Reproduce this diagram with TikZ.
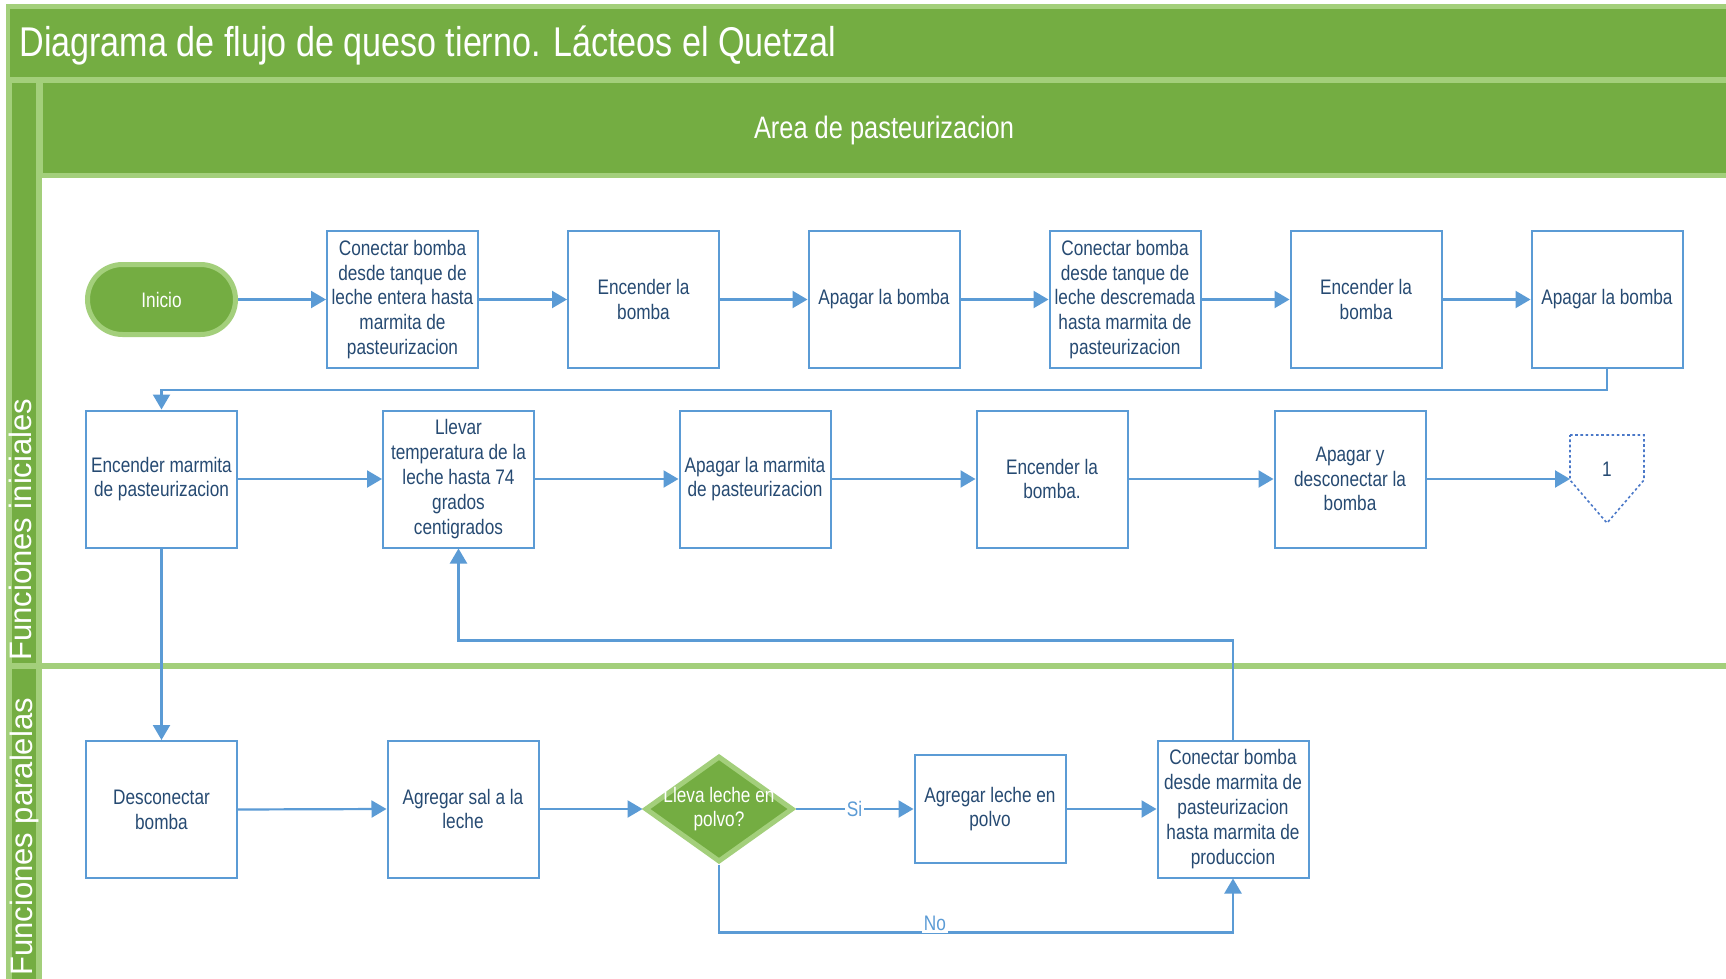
\documentclass[tikz,border=0pt]{standalone}
\usepackage{fontspec}
\setmainfont{Liberation Sans}[FakeStretch=0.82]
\newfontfamily\lanefont{Liberation Sans}
\usetikzlibrary{arrows.meta,shapes.geometric}

\definecolor{pool}{HTML}{74AD42}
\definecolor{poolline}{HTML}{A3CF7B}
\definecolor{flowblue}{HTML}{5B9BD5}
\definecolor{boxtext}{HTML}{264A72}
\definecolor{offline}{HTML}{4A78C8}

\tikzset{
  every node/.style={font=\fontsize{10.5pt}{12.4pt}\selectfont},
  task/.style={draw=flowblue, line width=1pt, fill=white, minimum width=75.5pt,
    minimum height=68.5pt, inner sep=0pt, align=center, text=boxtext},
  shorttask/.style={task, minimum height=54pt},
  terminal/.style={draw=poolline, fill=pool, line width=2.5pt, rounded corners=17.5pt,
    minimum width=74pt, minimum height=35pt, text=white},
  decision/.style={diamond, draw=poolline, fill=pool, line width=2.5pt,
    minimum width=74pt, minimum height=53pt, inner sep=0pt},
  flow/.style={draw=flowblue, line width=1.1pt, -{Triangle[length=7.5pt,width=8.5pt]}},
  flowlabel/.style={fill=white, text=flowblue, inner sep=1pt},
  lanelabel/.style={rotate=90, anchor=base west, inner sep=0pt, text=white,
    font=\lanefont\fontsize{15.5pt}{18pt}\selectfont},
}

\begin{document}
\begin{tikzpicture}[x=0.5pt, y=-0.5pt]
\useasboundingbox (0,0) rectangle (1726,979);
\clip (0,0) rectangle (1726,979);

% pool frame, title bar, phase header and lane strips
\fill[poolline] (6,4) rectangle (1740,990);
\fill[pool] (10,9) rectangle (1740,77);
\fill[pool] (43,83) rectangle (1740,173);
\fill[pool] (12,83) rectangle (36,663);
\fill[pool] (12,669) rectangle (36,990);
\fill[white] (42,178) rectangle (1740,663);
\fill[white] (42,669) rectangle (1740,990);

\node[anchor=west, inner sep=0pt, text=white, font=\fontsize{20.8pt}{24pt}\selectfont]
  (title) at (19,46) {Diagrama de flujo de queso tierno. Lácteos el Quetzal};
\node[text=white, font=\fontsize{15.5pt}{18pt}\selectfont]
  (area) at (884,130) {Area de pasteurizacion};
\node[lanelabel] (lane1) at (32,661) {Funciones iniciales};
\node[lanelabel] (lane2) at (32.5,976) {Funciones paralelas};

% first row
\node[terminal] (start) at (161.5,299.5) {Inicio};
\node[task] (b1) at (402.5,299.5) {Conectar bomba\\desde tanque de\\leche entera hasta\\marmita de\\pasteurizacion};
\node[task] (b2) at (643.5,299.5) {Encender la\\bomba};
\node[task] (b3) at (884,299.5) {Apagar la bomba};
\node[task] (b4) at (1125,299.5) {Conectar bomba\\desde tanque de\\leche descremada\\hasta marmita de\\pasteurizacion};
\node[task] (b5) at (1366,299.5) {Encender la\\bomba};
\node[task] (b6) at (1607,299.5) {Apagar la bomba};

% second row
\node[task] (c1) at (161.5,479) {Encender marmita\\de pasteurizacion};
\node[task] (c2) at (458.5,479) {Llevar\\temperatura de la\\leche hasta 74\\grados\\centigrados};
\node[task] (c3) at (755,479) {Apagar la marmita\\de pasteurizacion};
\node[task] (c4) at (1052,479) {Encender la\\bomba.};
\node[task] (c5) at (1350,479) {Apagar y\\desconectar la\\bomba};

% off-page reference
\draw[draw=offline, line width=0.8pt, dash pattern=on 1.3pt off 1.3pt, fill=white]
  (1570,435) -- (1644,435) -- (1644,480) -- (1607,523) -- (1570,480) -- cycle;
\node[text=boxtext] (off) at (1607,469) {1};
\coordinate (offin) at (1570,479);

% parallel lane
\node[task] (d1) at (161.5,809.5) {Desconectar\\bomba};
\node[task] (d2) at (463,809) {Agregar sal a la\\leche};
\node[decision] (dia) at (719,809) {};
\node[text=white, align=center, inner sep=0pt] (diatext) at (719,809) {Lleva leche en\\polvo?};
\node[shorttask] (e) at (990,809) {Agregar leche en\\polvo};
\node[task] (f) at (1233,809) {Conectar bomba\\desde marmita de\\pasteurizacion\\hasta marmita de\\produccion};

% connectors
\draw[flow] (start.east) -- (b1.west);
\draw[flow] (b1.east) -- (b2.west);
\draw[flow] (b2.east) -- (b3.west);
\draw[flow] (b3.east) -- (b4.west);
\draw[flow] (b4.east) -- (b5.west);
\draw[flow] (b5.east) -- (b6.west);
\draw[flow] (b6.south) -- ++(0,21) -| (c1.north);
\draw[flow] (c1.east) -- (c2.west);
\draw[flow] (c2.east) -- (c3.west);
\draw[flow] (c3.east) -- (c4.west);
\draw[flow] (c4.east) -- (c5.west);
\draw[flow] (c5.east) -- (offin);
\draw[flow] (c1.south) -- (d1.north);
\draw[flow] (d1.east) -- (d2.west);
\draw[flow] (d2.east) -- (dia.west);
\draw[flow] (dia.east) -- (e.west) node[midway, flowlabel] {Si};
\draw[flow] (e.east) -- (f.west);
\draw[flow] (dia.south) -- ++(0,68) -| (f.south) node[pos=0.21, flowlabel, yshift=4.5pt] {No};
\draw[flow] (f.north) -- ++(0,-99) -| (c2.south);
\end{tikzpicture}
\end{document}
